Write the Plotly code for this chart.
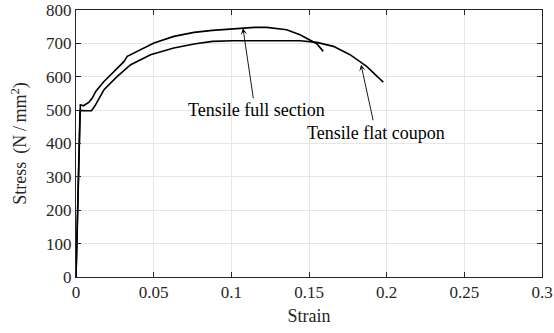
import plotly.graph_objects as go

# Tensile full section (strain, stress N/mm^2)
full_strain = [0.0, 0.0010, 0.0020, 0.0028, 0.0048, 0.0084, 0.0105, 0.0127, 0.0180, 0.0245,
               0.0310, 0.0330, 0.0417, 0.0502, 0.0630, 0.0760, 0.0878, 0.0927, 0.1067,
               0.1150, 0.1228, 0.1300, 0.1356, 0.1442, 0.1506, 0.1550, 0.1592]
full_stress = [0, 195, 390, 516, 513, 524, 536, 556, 586, 616,
               646, 661, 681, 701, 721, 733, 739, 741, 746,
               748, 748, 745, 741, 726, 711, 699, 676]

# Tensile flat coupon
flat_strain = [0.0, 0.0010, 0.0020, 0.0026, 0.0060, 0.0100, 0.0122, 0.0180, 0.0266, 0.0352,
               0.0480, 0.0630, 0.0760, 0.0878, 0.1013, 0.1228, 0.1442, 0.1550, 0.1657,
               0.1764, 0.1871, 0.1978]
flat_stress = [0, 192, 385, 499, 498, 498, 513, 561, 601, 636,
               666, 686, 698, 706, 708, 709, 708, 703, 691,
               666, 631, 584]

x_ticks = [0, 0.05, 0.1, 0.15, 0.2, 0.25, 0.3]
x_tick_labels = ["0", "0.05", "0.1", "0.15", "0.2", "0.25", "0.3"]
y_ticks = [0, 100, 200, 300, 400, 500, 600, 700, 800]

labels = ["Tensile full section", "Tensile flat coupon"]
label_pos = [(0.1165, 501), (0.1931, 432)]
arrow_tip = [(0.1075, 745), (0.1835, 636)]
arrow_tail = [(0.1143, 531), (0.1915, 465)]

FONT = "Liberation Serif"
TXT = "#262626"

fig = go.Figure()
fig.add_trace(go.Scatter(x=full_strain, y=full_stress, mode="lines",
                         line=dict(color="black", width=1.6), showlegend=False))
fig.add_trace(go.Scatter(x=flat_strain, y=flat_stress, mode="lines",
                         line=dict(color="black", width=1.6), showlegend=False))

for txt, (lx, ly) in zip(labels, label_pos):
    fig.add_annotation(x=lx, y=ly, text=txt, showarrow=False,
                       font=dict(family=FONT, size=18, color="black"),
                       xanchor="center", yanchor="middle")
for (tx, ty), (sx, sy) in zip(arrow_tip, arrow_tail):
    fig.add_annotation(x=tx, y=ty, ax=sx, ay=sy, xref="x", yref="y",
                       axref="x", ayref="y", text="", showarrow=True,
                       arrowhead=3, arrowsize=1.2, arrowwidth=0.9,
                       arrowcolor="black", standoff=0)

axis_common = dict(showgrid=True, gridcolor="#e6e6e6", gridwidth=1,
                   showline=True, linecolor=TXT, linewidth=1,
                   mirror="ticks", ticks="inside", ticklen=5, tickcolor=TXT,
                   zeroline=False, automargin=False,
                   tickfont=dict(family=FONT, size=17, color=TXT))

fig.update_xaxes(range=[0, 0.3], tickvals=x_ticks, ticktext=x_tick_labels,
                 title=dict(text="Strain", font=dict(family=FONT, size=18, color=TXT),
                            standoff=7),
                 **axis_common)
fig.update_yaxes(range=[0, 800], tickvals=y_ticks,
                 title=dict(text="Stress\u2009 (N\u2009/\u2009mm<sup>2</sup>)",
                            font=dict(family=FONT, size=18, color=TXT),
                            standoff=14),
                 **axis_common)

fig.update_layout(width=554, height=333,
                  margin=dict(l=76, r=12, t=10, b=56),
                  plot_bgcolor="white", paper_bgcolor="white")

fig.write_html("out.html", config={"displayModeBar": False},
               post_script="document.body.style.margin='0';document.body.style.overflow='hidden';")
